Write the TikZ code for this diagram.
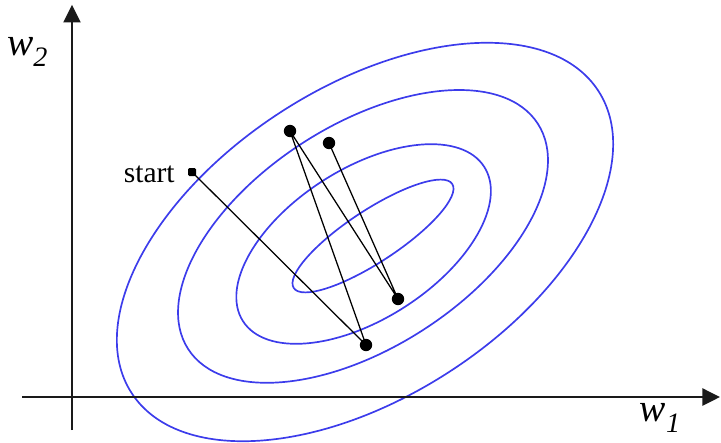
\documentclass[tikz,border=0pt]{standalone}
\usepackage{fontspec}
\setmainfont{Liberation Serif}
\usetikzlibrary{arrows.meta, positioning}
\definecolor{contourblue}{HTML}{3C3CEB}
\definecolor{axisgray}{HTML}{1A1A1A}

\begin{document}
\begin{tikzpicture}[>={Triangle[length=4.4mm, width=4.3mm]},
  contour/.style={contourblue, line width=1.2pt},
  axisline/.style={axisgray, line width=1.1pt, ->},
  stepdot/.style={circle, fill=black, inner sep=0pt, minimum size=3.1mm},
  startdot/.style={rectangle, rounded corners=1pt, fill=black, inner sep=0pt, minimum size=2mm},
  axislabel/.style={font=\fontsize{28}{28}\selectfont\itshape, inner sep=0pt}]

% Canvas
\useasboundingbox (0,0) rectangle (18.025,11.05);

% --- Contours of the error surface ---
\begin{scope}[shift={(9.325,5.15)}, rotate=33.3]
  \draw[contour] (0,0) ellipse [x radius=2.37cm, y radius=0.65cm];
\end{scope}
\begin{scope}[shift={(9.09,4.95)}, rotate=32.6]
  \draw[contour] (0,0) ellipse [x radius=3.58cm, y radius=1.88cm];
\end{scope}
\begin{scope}[shift={(9.075,5.14)}, rotate=32.8]
  \draw[contour] (0,0) ellipse [x radius=5.2cm, y radius=2.78cm];
\end{scope}
\begin{scope}[shift={(9.125,5.0)}, rotate=32.9]
  \draw[contour] (0,0) ellipse [x radius=6.95cm, y radius=3.87cm];
\end{scope}

% --- Axes ---
\coordinate (origin) at (1.8,1.125);
\coordinate (xleft) at (0.55,1.125);
\coordinate (xend) at (18.0,1.125);
\coordinate (ybottom) at (1.8,0.3);
\coordinate (yend) at (1.8,10.93);
\draw[axisline] (xleft) -- (xend);
\draw[axisline] (ybottom) -- (yend);

\node[axislabel] (wone) at (16.5,0.6) {w\raisebox{-0.3em}{\fontsize{20}{20}\selectfont 1}};
\node[axislabel] (wtwo) at (0.68,9.75) {w\raisebox{-0.3em}{\fontsize{20}{20}\selectfont 2}};

% --- Descent steps ---
\node[startdot] (start) at (4.8,6.75) {};
\node[stepdot] (stepa) at (9.15,2.425) {};
\node[stepdot] (stepb) at (7.25,7.775) {};
\node[stepdot] (stepc) at (9.95,3.575) {};
\node[stepdot] (stepd) at (8.225,7.475) {};

\draw[black, line width=0.9pt]
  (start.center) -- (stepa.center) -- (stepb.center) -- (stepc.center) -- (stepd.center);

\node[font=\fontsize{21}{25}\selectfont, left=0.32cm of start, yshift=-0.05cm, inner sep=0pt] (startlabel) {start};

\end{tikzpicture}
\end{document}
